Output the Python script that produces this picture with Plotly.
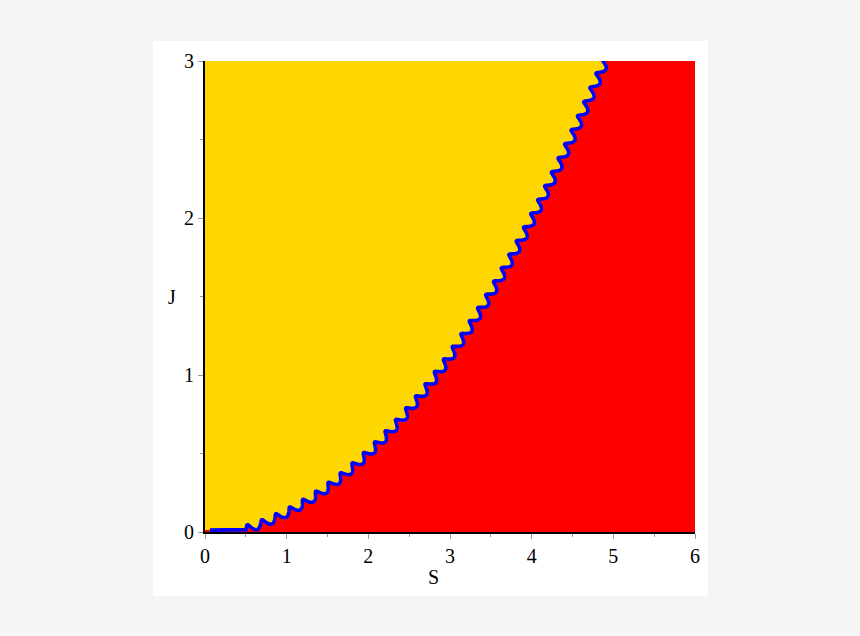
import numpy as np
import plotly.graph_objects as go

# ---- data ----
S_ticks = [0, 1, 2, 3, 4, 5, 6]
J_ticks = [0, 1, 2, 3]
# flat start of the boundary line
S_flat = [0.06, 0.5]
J_flat = [0.012, 0.015]
# points on the (wiggly) yellow/red boundary, read along its centre
S_pts = [0.5, 1.0, 1.5, 2.0, 2.5, 3.0, 3.5, 4.0, 4.5, 4.9]
J_pts = [0.02, 0.12, 0.28, 0.50, 0.78, 1.12, 1.52, 1.98, 2.52, 3.0]

# ---- style ----
W, H = 860, 636
L_M, R_M, T_M, B_M = 205, 165, 61, 104
PW, PH = W - L_M - R_M, H - T_M - B_M
kx, ky = PW / 6.0, PH / 3.0
WIG_PERIOD = 15.5   # px of arc length per wiggle
WIG_A, WIG_B = 3.8, 1.0

# smooth centre line through the read points
coef = np.polyfit(S_pts, J_pts, 3)
s = np.linspace(S_pts[0], S_pts[-1], 3000)
j = np.polyval(coef, s)
X, Y = s * kx, j * ky
dX, dY = np.gradient(X), np.gradient(Y)
ds = np.hypot(dX, dY)
tx, ty = dX / ds, dY / ds
nx, ny = -ty, tx
arc = np.concatenate([[0], np.cumsum(np.hypot(np.diff(X), np.diff(Y)))])
ph = 2 * np.pi * arc / WIG_PERIOD
X2 = X + WIG_A * np.sin(ph) * nx + WIG_B * (np.cos(ph) - 1) * tx
Y2 = Y + WIG_A * np.sin(ph) * ny + WIG_B * (np.cos(ph) - 1) * ty
S_line = list(S_flat) + list(X2 / kx)
J_line = list(J_flat) + list(Y2 / ky)

fig = go.Figure()
# yellow region (left of boundary)
fig.add_trace(go.Scatter(
    x=[0] + S_line + [S_line[-1], 0],
    y=[J_line[0]] + J_line + [3.1, 3.1],
    fill="toself", fillcolor="#FFD700", mode="lines",
    line=dict(width=0, color="#FFD700", simplify=False), hoverinfo="skip", showlegend=False))
# blue boundary line
fig.add_trace(go.Scatter(
    x=S_line, y=J_line, mode="lines",
    line=dict(color="#0000FF", width=3.6, simplify=False), hoverinfo="skip", showlegend=False))

# white panel behind the plot
x0 = (153 - L_M) / PW
x1 = (708 - L_M) / PW
y0 = (T_M + PH - 596) / PH
y1 = (T_M + PH - 41) / PH
fig.add_shape(type="rect", xref="paper", yref="paper", x0=x0, x1=x1, y0=y0, y1=y1,
              fillcolor="white", line=dict(width=0), layer="below")
# red region (whole plot area, under the yellow fill)
fig.add_shape(type="rect", xref="paper", yref="paper", x0=0, x1=1, y0=0, y1=1,
              fillcolor="#FF0000", line=dict(width=0), layer="below")

font = dict(family="Liberation Serif, Times New Roman, serif", size=20, color="black")
axis_common = dict(showgrid=False, zeroline=False, showline=True, linecolor="black",
                   linewidth=2, ticks="outside", ticklen=5, tickwidth=1, tickcolor="#999999",
                   tickfont=font, fixedrange=True,
                   minor=dict(ticks="outside", dtick=0.5, ticklen=3, tickcolor="#999999", tickwidth=1))
fig.update_xaxes(range=[0, 6], tickvals=S_ticks, ticktext=[str(v) for v in S_ticks], **axis_common)
fig.update_yaxes(range=[0, 3], tickvals=J_ticks, ticktext=[str(v) for v in J_ticks], **axis_common)

fig.add_annotation(text="S", xref="paper", yref="paper", x=(433 - L_M) / PW,
                   y=(T_M + PH - 577) / PH, showarrow=False, font=font,
                   xanchor="center", yanchor="middle")
fig.add_annotation(text="J", xref="paper", yref="paper", x=(172 - L_M) / PW,
                   y=(T_M + PH - 297) / PH, showarrow=False, font=font,
                   xanchor="center", yanchor="middle")

fig.update_layout(width=W, height=H, margin=dict(l=L_M, r=R_M, t=T_M, b=B_M),
                  paper_bgcolor="#F5F5F5", plot_bgcolor="#FF0000", showlegend=False)
fig.write_html("out.html", config={"displayModeBar": False},
               post_script="document.body.style.margin='0';document.body.style.background='#F5F5F5';")
